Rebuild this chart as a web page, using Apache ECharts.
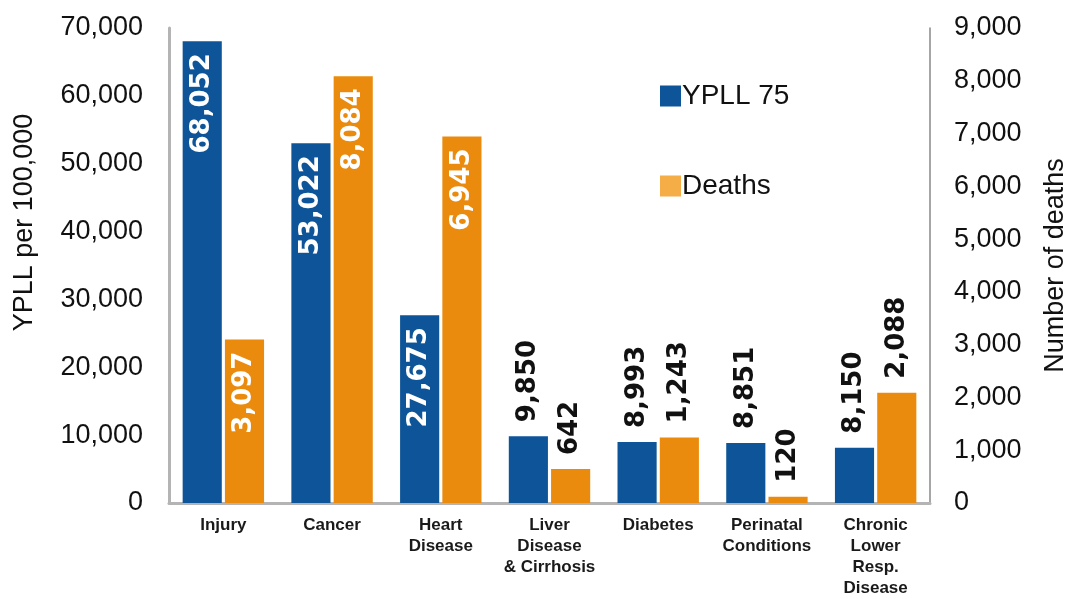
<!DOCTYPE html>
<html>
<head>
<meta charset="utf-8">
<script src="https://cdn.jsdelivr.net/npm/echarts@6/dist/echarts.min.js"></script>
<style>
html, body {margin: 0; padding: 0; background: #fff;}
#main {width: 1067px; height: 599px;}
</style>
</head>
<body>
<div id="main"></div>
<script>
var categories = ['Injury', 'Cancer', 'Heart\nDisease', 'Liver\nDisease\n& Cirrhosis', 'Diabetes', 'Perinatal\nConditions', 'Chronic\nLower\nResp.\nDisease'];
var ypll = [68052, 53022, 27675, 9850, 8993, 8851, 8150];
var deaths = [3097, 8084, 6945, 642, 1243, 120, 2088];
var leftMax = 70000, rightMax = 9000;

var blue = '#0d5598', orange = '#eb8b0d', orangeLegend = '#f5ad48';

// tall bars get a white label inside, short ones a dark one above
var makeItems = function (vals, max) {
    return vals.map(function (v) {
        var inside = v / max > 0.3;
        return {
            value: v,
            label: inside
                ? {position: 'insideTop', align: 'right', color: '#fff', distance: 12}
                : {position: 'top', align: 'left', color: '#111', distance: 14}
        };
    });
};

var chart = echarts.init(document.getElementById('main'));
var font = 'Liberation Sans';

var barLabel = {
    show: true,
    rotate: 90,
    verticalAlign: 'middle',
    fontSize: 26,
    fontWeight: 'bold',
    fontFamily: 'DejaVu Sans',
    formatter: function (p) { return echarts.format.addCommas(p.value); }
};

var option = {
    animation: false,
    textStyle: {fontFamily: font},
    grid: {left: 169, right: 137, top: 28, bottom: 96, containLabel: false, outerBoundsMode: 'none'},
    legend: {
        orient: 'vertical',
        left: 655,
        top: 77,
        itemWidth: 21,
        itemHeight: 21,
        itemGap: 62,
        textStyle: {fontSize: 28, color: '#111', fontFamily: font, padding: [0, 0, 0, -4]},
        data: [
            {name: 'YPLL 75', icon: 'rect', itemStyle: {color: blue}},
            {name: 'Deaths', icon: 'rect', itemStyle: {color: orangeLegend}}
        ]
    },
    xAxis: {
        type: 'category',
        data: categories,
        axisLine: {lineStyle: {color: '#b4b4b4', width: 3}},
        axisTick: {show: false},
        axisLabel: {
            interval: 0,
            margin: 12,
            fontSize: 17,
            fontWeight: 'bold',
            lineHeight: 21,
            color: '#1a1a1a',
            fontFamily: font
        }
    },
    yAxis: [{
        type: 'value',
        min: 0,
        max: leftMax,
        interval: 10000,
        name: 'YPLL per 100,000',
        nameLocation: 'middle',
        nameGap: 131,
        nameTextStyle: {fontSize: 27, color: '#111', padding: [0, 0, 0, 86]},
        axisLine: {show: true, lineStyle: {color: '#b4b4b4', width: 3}},
        axisTick: {show: false},
        splitLine: {show: false},
        axisLabel: {
            fontSize: 27,
            color: '#111',
            margin: 26,
            formatter: function (v) { return echarts.format.addCommas(v); }
        }
    }, {
        type: 'value',
        min: 0,
        max: rightMax,
        interval: 1000,
        name: 'Number of deaths',
        nameLocation: 'middle',
        nameGap: 112,
        nameTextStyle: {fontSize: 27, color: '#111'},
        axisLine: {show: true, lineStyle: {color: '#888', width: 1.5}},
        axisTick: {show: false},
        splitLine: {show: false},
        axisLabel: {
            fontSize: 27,
            color: '#111',
            margin: 24,
            formatter: function (v) { return echarts.format.addCommas(v); }
        }
    }],
    series: [{
        name: 'YPLL 75',
        type: 'bar',
        yAxisIndex: 0,
        barWidth: '36%',
        barGap: '8%',
        itemStyle: {color: blue},
        label: barLabel,
        data: makeItems(ypll, leftMax)
    }, {
        name: 'Deaths',
        type: 'bar',
        yAxisIndex: 1,
        barWidth: '36%',
        barGap: '8%',
        itemStyle: {color: orange},
        label: barLabel,
        data: makeItems(deaths, rightMax)
    }]
};
chart.setOption(option);
</script>
</body>
</html>
